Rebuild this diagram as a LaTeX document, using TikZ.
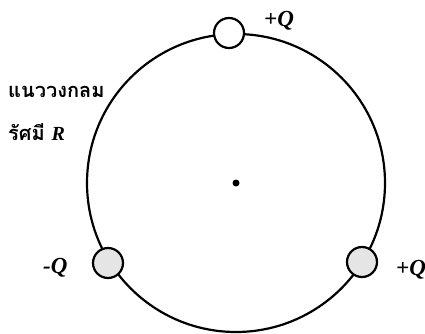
\documentclass[tikz,border=0pt]{standalone}
\usepackage{fontspec}
\setmainfont{Liberation Serif}
\newfontfamily\thaifont[Script=Thai]{Loma}
\usetikzlibrary{positioning}

\tikzset{
  charge/.style={circle, draw, line width=2.2pt, minimum size=30pt, inner sep=0pt},
  chargelbl/.style={font=\fontsize{23}{27}\selectfont\bfseries\itshape, anchor=base west, inner sep=0pt},
  thailbl/.style={font=\fontsize{20}{24}\selectfont\thaifont\bfseries, anchor=base west, inner sep=0pt}
}

\begin{document}
\begin{tikzpicture}[x=1pt,y=-1pt]
    \useasboundingbox (0,0) rectangle (425,334);

    % Cerchio di raggio R
    \node[draw, circle, line width=2.2pt, minimum size=298pt, inner sep=0pt] (ring) at (236,183) {};
    \fill (ring.center) circle (3.5);

    % Cariche sul cerchio
    \node[charge, fill=white] (qtop) at (229,33) {};
    \node[charge, fill=gray!20] (qleft) at (108,263) {};
    \node[charge, fill=gray!20] (qright) at (362,262) {};

    % Etichette
    \node[chargelbl] (ltop) at (264,27) {+Q};
    \node[chargelbl] (lleft) at (43,273) {-Q};
    \node[chargelbl] (lright) at (396,275) {+Q};
    \node[thailbl] (tline) at (8,98) {แนววงกลม};
    \node[thailbl] (tradius) at (8,140) {รัศมี {\rmfamily\itshape R}};
\end{tikzpicture}
\end{document}
